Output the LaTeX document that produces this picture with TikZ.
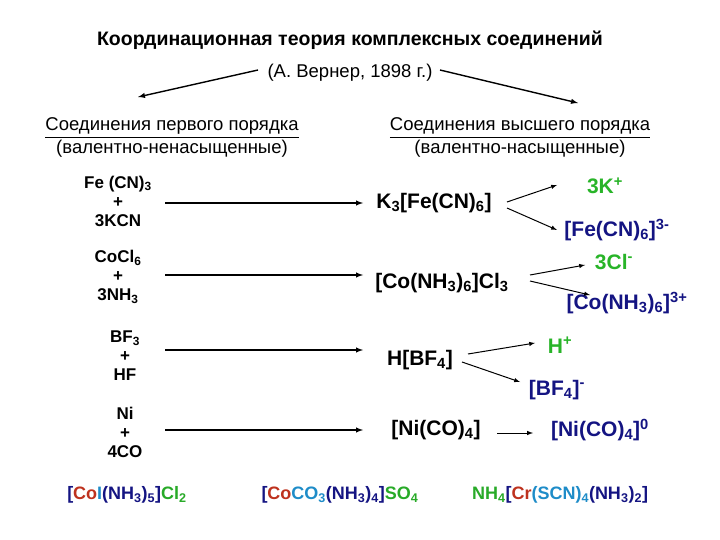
\documentclass[tikz,border=0pt]{standalone}
\usepackage{amsmath}
\usepackage{fontspec}
\setmainfont{Liberation Sans}
\newcommand\lo[1]{$_{\text{#1}}$}
\newcommand\hi[1]{$^{\text{#1}}$}
\begin{document}
\begin{tikzpicture}[x=1pt,y=-1pt,
 arr/.style={-latex,line width=1.4pt},
 sarr/.style={-latex,line width=1pt},
 big/.style={font=\bfseries\fontsize{21}{24}\selectfont},
 lft/.style={font=\bfseries\fontsize{17}{19}\selectfont,align=center},
 hd/.style={font=\fontsize{18.5}{20}\selectfont},
 cat/.style={big,text={rgb,255:red,40;green,180;blue,40}},
 ani/.style={big,text={rgb,255:red,20;green,20;blue,130}}]
\useasboundingbox (0,0) rectangle (720,540);
\definecolor{nv}{RGB}{20,20,130}\definecolor{rd}{RGB}{190,50,30}\definecolor{cy}{RGB}{30,140,200}\definecolor{gr}{RGB}{40,170,40}
\node[font=\bfseries\fontsize{19.5}{21}\selectfont] (t) at (350,40) {Координационная теория комплексных соединений};
\node[font=\fontsize{18.5}{20}\selectfont] (s) at (350,73) {(А. Вернер, 1898 г.)};
\coordinate (la) at (258,70); \coordinate (lb) at (138,97);
\coordinate (ra) at (440,70); \coordinate (rb) at (578,103);
\draw[arr] (la) -- (lb); \draw[arr] (ra) -- (rb);
\node[hd] (h1) at (172,128) {\underline{Соединения первого порядка}};
\node[hd] (h1b) at (172,149) {(валентно-ненасыщенные)};
\node[hd] (h2) at (520,128) {\underline{Соединения высшего порядка}};
\node[hd] (h2b) at (520,149) {(валентно-насыщенные)};
\node[lft] (l1) at (118,201) {Fe (CN)\lo{3}\\+\\3KCN};
\node[lft] (l2) at (118,277) {CoCl\lo{6}\\+\\3NH\lo{3}};
\node[lft] (l3) at (125,356) {BF\lo{3}\\+\\HF};
\node[lft] (l4) at (125,432) {Ni\\+\\4CO};
\node[big] (r1) at (434,203) {K\lo{3}[Fe(CN)\lo{6}]};
\node[big] (r2) at (442,283) {[Co(NH\lo{3})\lo{6}]Cl\lo{3}};
\node[big] (r3) at (420,360) {H[BF\lo{4}]};
\node[big] (r4) at (436,430) {[Ni(CO)\lo{4}]};
\coordinate (a1) at (165,203); \coordinate (b1) at (363,203);
\coordinate (a2) at (165,275); \coordinate (b2) at (363,275);
\coordinate (a3) at (165,350); \coordinate (b3) at (363,350);
\coordinate (a4) at (165,430); \coordinate (b4) at (363,430);
\foreach \i in {1,...,4}{\draw[arr] (a\i) -- (b\i);}
\node[cat] (k) at (605,186) {3K\hi{+}};
\node[ani] (fe) at (617,230) {[Fe(CN)\lo{6}]\hi{3-}};
\node[cat] (cl) at (614,262) {3Cl\hi{-}};
\node[ani] (co) at (627,303) {[Co(NH\lo{3})\lo{6}]\hi{3+}};
\node[cat] (hp) at (560,345) {H\hi{+}};
\node[ani] (bf) at (557,390) {[BF\lo{4}]\hi{-}};
\node[ani] (ni) at (600,430) {[Ni(CO)\lo{4}]\hi{0}};
\coordinate (p1) at (507,202); \coordinate (q1) at (557,185);
\coordinate (p2) at (507,208); \coordinate (q2) at (557,230);
\coordinate (p3) at (530,275); \coordinate (q3) at (585,265);
\coordinate (p4) at (530,281); \coordinate (q4) at (590,295);
\coordinate (p5) at (468,354); \coordinate (q5) at (535,343);
\coordinate (p6) at (462,362); \coordinate (q6) at (520,382);
\coordinate (p7) at (497,433); \coordinate (q7) at (533,433);
\foreach \i in {1,...,7}{\draw[sarr] (p\i) -- (q\i);}
\begin{scope}[every node/.style={font=\bfseries\fontsize{18}{20}\selectfont}]
\node (e1) at (127,495) {\textcolor{nv}{[}\textcolor{rd}{Co}\textcolor{cy}{I}\textcolor{nv}{(NH\lo{3})\lo{5}]}\textcolor{gr}{Cl\lo{2}}};
\node (e2) at (340,495) {\textcolor{nv}{[}\textcolor{rd}{Co}\textcolor{cy}{CO\lo{3}}\textcolor{nv}{(NH\lo{3})\lo{4}]}\textcolor{gr}{SO\lo{4}}};
\node (e3) at (560,495) {\textcolor{gr}{NH\lo{4}}\textcolor{nv}{[}\textcolor{rd}{Cr}\textcolor{cy}{(SCN)\lo{4}}\textcolor{nv}{(NH\lo{3})\lo{2}]}};
\end{scope}
\end{tikzpicture}
\end{document}
